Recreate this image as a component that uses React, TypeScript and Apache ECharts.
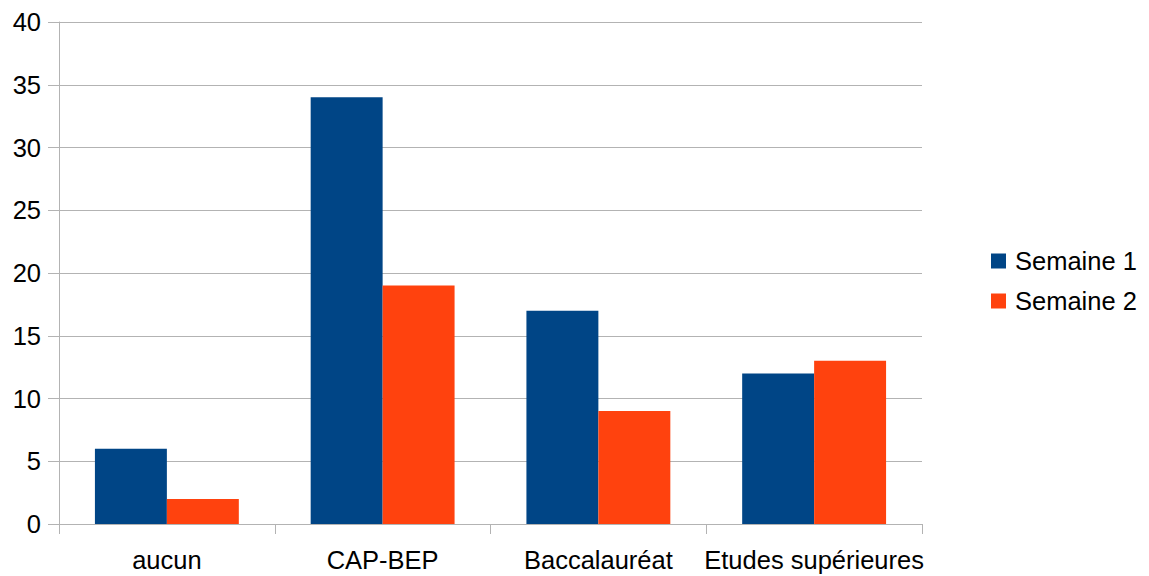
import React, { useEffect, useRef } from "react";
import * as echarts from "echarts";

const categories = ["aucun", "CAP-BEP", "Baccalauréat", "Etudes supérieures"];
const semaine1 = [6, 34, 17, 12];
const semaine2 = [2, 19, 9, 13];
const seriesNames = ["Semaine 1", "Semaine 2"];

export default function App() {
  const ref = useRef<HTMLDivElement>(null);
  useEffect(() => {
    const chart = echarts.init(ref.current!, null, { renderer: "svg" });
    const font = "'Liberation Sans', Arial, sans-serif";
    chart.setOption({
      animation: false,
      textStyle: { fontFamily: font },
      grid: { left: 59, right: 227, top: 22, bottom: 52, containLabel: false },
      legend: {
        orient: "vertical",
        left: 991,
        top: 248,
        padding: 0,
        itemWidth: 15,
        itemHeight: 15,
        itemGap: 14,
        icon: "rect",
        textStyle: { fontSize: 25.5, color: "#000", fontFamily: font, padding: [0, 0, 0, 4] },
        data: seriesNames,
      },
      xAxis: {
        type: "category",
        data: categories,
        axisLine: { lineStyle: { color: "#b3b3b3" } },
        axisTick: { show: true, length: 10, alignWithLabel: false, lineStyle: { color: "#b3b3b3" } },
        axisLabel: { fontSize: 25.5, color: "#000", margin: 23, interval: 0, fontFamily: font },
      },
      yAxis: {
        type: "value",
        min: 0,
        max: 40,
        interval: 5,
        axisLine: { show: true, lineStyle: { color: "#b3b3b3" } },
        axisTick: { show: true, length: 11, lineStyle: { color: "#b3b3b3" } },
        axisLabel: { fontSize: 25.5, color: "#000", margin: 18, fontFamily: font },
        splitLine: { lineStyle: { color: "#b3b3b3" } },
      },
      series: [
        {
          name: seriesNames[0],
          type: "bar",
          data: semaine1,
          itemStyle: { color: "#004586" },
          barGap: "0%",
          barCategoryGap: "33.3%",
        },
        {
          name: seriesNames[1],
          type: "bar",
          data: semaine2,
          itemStyle: { color: "#ff420e" },
          barGap: "0%",
          barCategoryGap: "33.3%",
        },
      ],
    });
    return () => chart.dispose();
  }, []);
  return (
    <div
      ref={ref}
      style={{ position: "fixed", left: 0, top: 0, width: 1149, height: 576, background: "#fff" }}
    />
  );
}
